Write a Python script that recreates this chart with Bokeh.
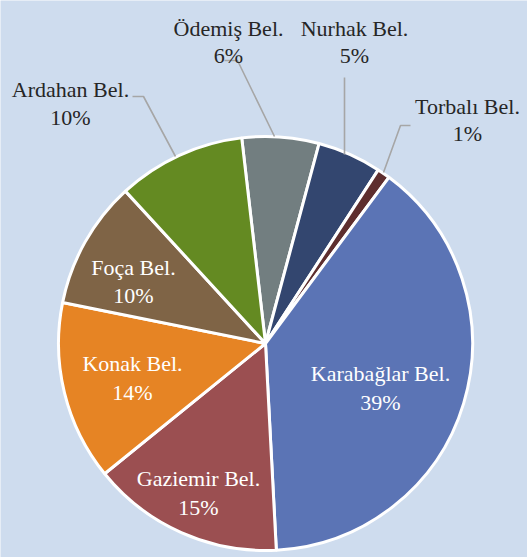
import math
from bokeh.plotting import figure
from bokeh.models import Range1d, ColumnDataSource
from bokeh.core.properties import value
from bokeh.embed import file_html
from bokeh.resources import INLINE

# ---- data ----
names = ["Ödemiş Bel.", "Nurhak Bel.", "Torbalı Bel.", "Karabağlar Bel.",
         "Gaziemir Bel.", "Konak Bel.", "Foça Bel.", "Ardahan Bel."]
shares = [6, 5, 1, 39, 15, 14, 10, 10]
colors = ["#727e80", "#33466f", "#5e2e2e", "#5b74b5",
          "#9b4f51", "#e68424", "#7f6446", "#648a22"]

# ---- style / layout ----
BG = "#cedcee"
W, H = 527, 557
FONT = "Liberation Serif"
FS = "22px"
first_angle = -6.6  # degrees, clockwise from top
cx, cy, r = 265, H - 343, 207

def fy(Y):
    return H - Y

total = float(sum(shares))
starts, ends = [], []
acc = first_angle
for v in shares:
    a0 = acc
    a1 = acc + 360.0 * v / total
    starts.append(math.radians(90 - a0))
    ends.append(math.radians(90 - a1))
    acc = a1

src = ColumnDataSource(dict(start=starts, end=ends, color=colors))

p = figure(width=W, height=H, output_backend="svg", toolbar_location=None,
           x_range=Range1d(0, W), y_range=Range1d(0, H),
           min_border=0, background_fill_color=BG, border_fill_color=BG)
p.axis.visible = False
p.grid.visible = False
p.outline_line_color = None

p.wedge(x=cx, y=cy, radius=r, start_angle="start", end_angle="end",
        direction="clock", fill_color="color", line_color="white",
        line_width=3, source=src)

# leader lines (reference pixel coordinates)
leaders = {
    "Ardahan Bel.": [(132, 96), (143, 96), (175, 156)],
    "Ödemiş Bel.": [(224, 60), (237, 60), (274, 136)],
    "Nurhak Bel.": [(344, 77), (344, 154)],
    "Torbalı Bel.": [(410, 125), (400, 125), (383, 172)],
}
for pts in leaders.values():
    p.line([q[0] for q in pts], [fy(q[1]) for q in pts],
           line_color="#a6a6a6", line_width=1.6)

# label positions: (center x, name baseline, pct baseline), color
label_pos = {
    "Ödemiş Bel.": (228, 28, 55, "#262626"),
    "Nurhak Bel.": (354, 28, 55, "#262626"),
    "Torbalı Bel.": (467, 106, 133, "#262626"),
    "Karabağlar Bel.": (380, 373, 402, "white"),
    "Gaziemir Bel.": (198, 478, 507, "white"),
    "Konak Bel.": (132, 363, 392, "white"),
    "Foça Bel.": (133, 267, 295, "white"),
    "Ardahan Bel.": (70, 89, 117, "#262626"),
}
for name, v in zip(names, shares):
    x, y1, y2, col = label_pos[name]
    p.text(x=[x, x], y=[fy(y1), fy(y2)], text=[name, f"{v}%"],
           text_font=value(FONT), text_font_size=FS, text_color=col,
           text_align="center", text_baseline="alphabetic")

html = file_html(p, INLINE)
html = html.replace("<body>",
                    '<body style="margin:0;overflow:hidden;background-color:%s;">' % BG, 1)
open("out.html", "w").write(html)
